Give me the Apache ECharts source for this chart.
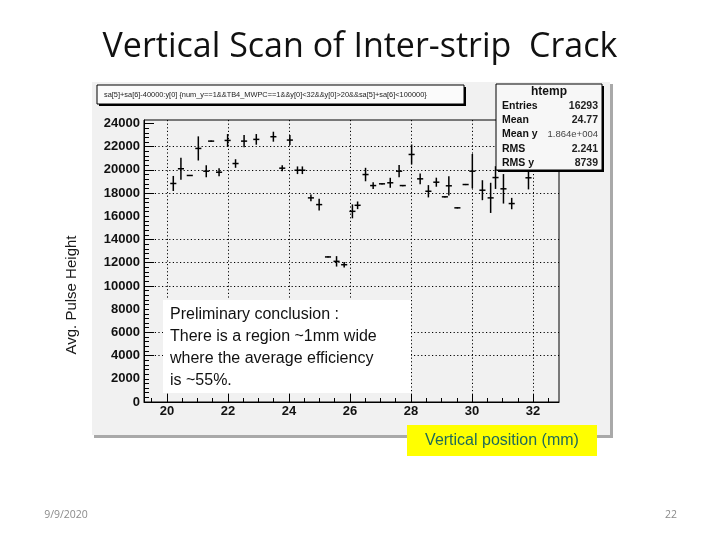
<!DOCTYPE html>
<html><head><meta charset="utf-8">
<script src="https://cdn.jsdelivr.net/npm/echarts/dist/echarts.min.js"></script>
<style>html,body{margin:0;padding:0;background:#fff}#c{width:720px;height:540px}</style>
</head><body><div id="c"></div>
<script>
// ---- data (profile: bin centre, mean, error) ----
const positions = [20.21,20.46,20.75,21.03,21.29,21.45,21.71,21.99,22.25,22.53,22.93,23.49,23.78,24.03,24.28,24.44,24.72,24.99,25.28,25.56,25.81,26.08,26.25,26.51,26.76,27.05,27.32,27.61,27.73,28.02,28.30,28.57,28.83,29.11,29.24,29.52,29.79,30.01,30.34,30.61,30.77,31.03,31.30,31.85];
const means     = [18830,20100,19520,21850,19890,22480,19800,22540,20550,22480,22630,22860,20150,22570,19970,19970,17590,17010,12500,12120,11830,16430,16950,19600,18650,18800,18890,19890,18650,21330,19230,18160,18940,17680,18630,16730,18740,19890,18250,17590,19340,18370,17100,19320];
const errors    = [650,940,50,1040,520,50,350,550,370,530,460,430,260,430,330,330,290,500,50,450,230,600,330,580,290,50,430,530,50,860,460,530,390,50,830,50,50,1480,860,1300,980,1270,490,1000];
const binHalfWidth = 0.1;

const xTickLabels = [20,22,24,26,28,30,32];
const yTickLabels = [0,2000,4000,6000,8000,10000,12000,14000,16000,18000,20000,22000,24000];
const yLongTicks  = [0,4000,6000,10000,12000,14000,18000,20000,22000,24000];
const yGridRows   = [4000,6000,10000,12000,14000,18000,20000,22000];

const statsTitle = 'htemp';
const statsRows = [['Entries','16293'],['Mean','24.77'],['Mean y','1.864e+004'],['RMS','2.241'],['RMS y','8739']];
const histTitle = 'sa[5]+sa[6]-40000:y[0] {num_y==1&&TB4_MWPC==1&&y[0]<32&&y[0]>20&&sa[5]+sa[6]<100000}';
const conclusionLines = ['Preliminary conclusion :','There is a region ~1mm wide','where the average efficiency','is ~55%.'];
const mainTitle = 'Vertical Scan of Inter-strip  Crack';
const xTitle = 'Vertical position (mm)';
const yTitle = 'Avg. Pulse Height';
const footerDate = '9/9/2020';
const footerPage = '22';

const xMin = 19.25, xMax = 32.85, yMin = 0, yMax = 24300;

const xMinor = []; for (let v = 19.5; v <= 32.5 + 1e-9; v += 0.5) xMinor.push(+v.toFixed(2));
const yMinor = []; for (let v = 0; v <= 24000; v += 400) yMinor.push(v);

const data = positions.map((p, i) => [p, means[i], errors[i]]);

function renderItem(params, api) {
  const x = api.value(0), y = api.value(1), e = api.value(2);
  const top = api.coord([x, y + e]);
  const bot = api.coord([x, y - e]);
  const l = api.coord([x - binHalfWidth, y]);
  const r = api.coord([x + binHalfWidth, y]);
  const st = {stroke: '#000', lineWidth: 1.5};
  return {type: 'group', children: [
    {type: 'line', shape: {x1: top[0], y1: top[1], x2: bot[0], y2: bot[1]}, style: st},
    {type: 'line', shape: {x1: l[0], y1: l[1], x2: r[0], y2: r[1]}, style: st}
  ]};
}

const AX = 'Liberation Sans, Arial, sans-serif';
const gridDots = {color: '#000', width: 1, type: [1.2, 2.4]};

const graphics = [
  // ROOT canvas panel with shadow
  {type: 'rect', z: -10, shape: {x: 94, y: 84, width: 519, height: 354}, style: {fill: '#a9a9a9'}},
  {type: 'rect', z: -9, shape: {x: 92, y: 82, width: 518, height: 353}, style: {fill: '#f1f1f1'}},
  // histogram title box
  {type: 'rect', z: 100, shape: {x: 99, y: 87, width: 367, height: 19}, style: {fill: '#000'}},
  {type: 'rect', z: 101, shape: {x: 97, y: 85, width: 367, height: 19}, style: {fill: '#fbfbfb', stroke: '#000', lineWidth: 1}},
  {type: 'text', z: 102, style: {x: 104, y: 95, text: histTitle, fontFamily: AX, fontSize: 7.4, fill: '#222', verticalAlign: 'middle'}},
  // stats box
  {type: 'rect', z: 100, shape: {x: 498, y: 86, width: 106, height: 86}, style: {fill: '#000'}},
  {type: 'rect', z: 101, shape: {x: 496, y: 84, width: 106, height: 86}, style: {fill: '#f7f7f7', stroke: '#000', lineWidth: 1}},
  {type: 'text', z: 102, style: {x: 549, y: 92, text: statsTitle, fontFamily: AX, fontSize: 12, fontWeight: 'bold', fill: '#111', align: 'center', verticalAlign: 'middle'}},
  // conclusion box
  {type: 'rect', z: 100, shape: {x: 163, y: 300, width: 248, height: 93}, style: {fill: '#fff'}},
  // x-axis title box
  {type: 'rect', z: 100, shape: {x: 407, y: 425, width: 190, height: 31}, style: {fill: '#ffff00'}},
  {type: 'text', z: 101, style: {x: 502, y: 441, text: xTitle, fontFamily: AX, fontSize: 16, fill: '#1f6a5a', align: 'center', verticalAlign: 'middle'}},
  // y-axis title
  {type: 'text', z: 101, x: 72, y: 295, rotation: Math.PI / 2, style: {x: 0, y: 0, text: yTitle, fontFamily: AX, fontSize: 15, fill: '#1a1a1a', align: 'center', verticalAlign: 'middle'}},
  // main title
  {type: 'text', z: 101, style: {x: 360, y: 47, text: mainTitle, fontFamily: 'Open Sans, Noto Sans, sans-serif', fontSize: 34, fill: '#111', align: 'center', verticalAlign: 'middle'}},
  // footer
  {type: 'text', z: 101, style: {x: 66, y: 515, text: footerDate, fontFamily: 'Open Sans, sans-serif', fontSize: 10.5, fill: '#8a8a8a', align: 'center', verticalAlign: 'middle'}},
  {type: 'text', z: 101, style: {x: 671, y: 515, text: footerPage, fontFamily: 'Open Sans, sans-serif', fontSize: 10.5, fill: '#8a8a8a', align: 'center', verticalAlign: 'middle'}}
];
statsRows.forEach((r, i) => {
  const y = 106 + i * 14.3;
  const long = r[1].length > 8;
  graphics.push({type: 'text', z: 102, style: {x: 502, y: y, text: r[0], fontFamily: AX, fontSize: 10.5, fontWeight: 'bold', fill: '#111', verticalAlign: 'middle'}});
  graphics.push({type: 'text', z: 102, style: {x: 598, y: y, text: r[1], fontFamily: AX, fontSize: long ? 9.5 : 10.5, fontWeight: long ? 'normal' : 'bold', fill: long ? '#444' : '#222', align: 'right', verticalAlign: 'middle'}});
});
conclusionLines.forEach((t, i) => {
  graphics.push({type: 'text', z: 101, style: {x: 170, y: 315 + i * 21.7, text: t, fontFamily: AX, fontSize: 16, fill: '#111', verticalAlign: 'middle'}});
});

const plain = v => String(Math.round(v));

const chart = echarts.init(document.getElementById('c'), null, {renderer: 'canvas'});
chart.setOption({
  animation: false,
  backgroundColor: '#fff',
  grid: {left: 144, top: 120, width: 415, height: 282, show: true, borderColor: '#000', borderWidth: 1, backgroundColor: 'transparent'},
  xAxis: [
    {type: 'value', min: xMin, max: xMax, position: 'bottom',
     axisLine: {show: true, lineStyle: {color: '#000', width: 1}},
     axisTick: {show: true, inside: true, length: 8, customValues: xTickLabels, lineStyle: {color: '#000', width: 1}},
     axisLabel: {customValues: xTickLabels, formatter: plain, fontFamily: AX, fontSize: 13, fontWeight: 'bold', color: '#111', margin: 3},
     splitLine: {show: true, lineStyle: gridDots}},
    {type: 'value', min: xMin, max: xMax, position: 'bottom',
     axisLine: {show: false},
     axisTick: {show: true, inside: true, length: 4, customValues: xMinor, lineStyle: {color: '#000', width: 1}},
     axisLabel: {show: false}, splitLine: {show: false}}
  ],
  yAxis: [
    {type: 'value', min: yMin, max: yMax, position: 'left',
     axisLine: {show: true, lineStyle: {color: '#000', width: 1}},
     axisTick: {show: true, inside: true, length: 10, customValues: yLongTicks, lineStyle: {color: '#000', width: 1}},
     axisLabel: {customValues: yTickLabels, formatter: plain, fontFamily: AX, fontSize: 13, fontWeight: 'bold', color: '#111', margin: 4},
     splitLine: {show: false}},
    {type: 'value', min: yMin, max: yMax, position: 'left',
     axisLine: {show: false},
     axisTick: {show: true, inside: true, length: 5, customValues: yMinor, lineStyle: {color: '#000', width: 1}},
     axisLabel: {show: false}, splitLine: {show: false}},
    {type: 'value', min: yMin, max: yMax, position: 'left',
     axisLine: {show: false},
     axisTick: {show: false, customValues: yGridRows},
     axisLabel: {show: false}, splitLine: {show: true, lineStyle: gridDots}}
  ],
  series: [{type: 'custom', xAxisIndex: 0, yAxisIndex: 0, renderItem: renderItem, data: data, z: 5, clip: false,
            encode: {x: 0, y: 1}}],
  graphic: graphics
});
</script>
</body></html>
